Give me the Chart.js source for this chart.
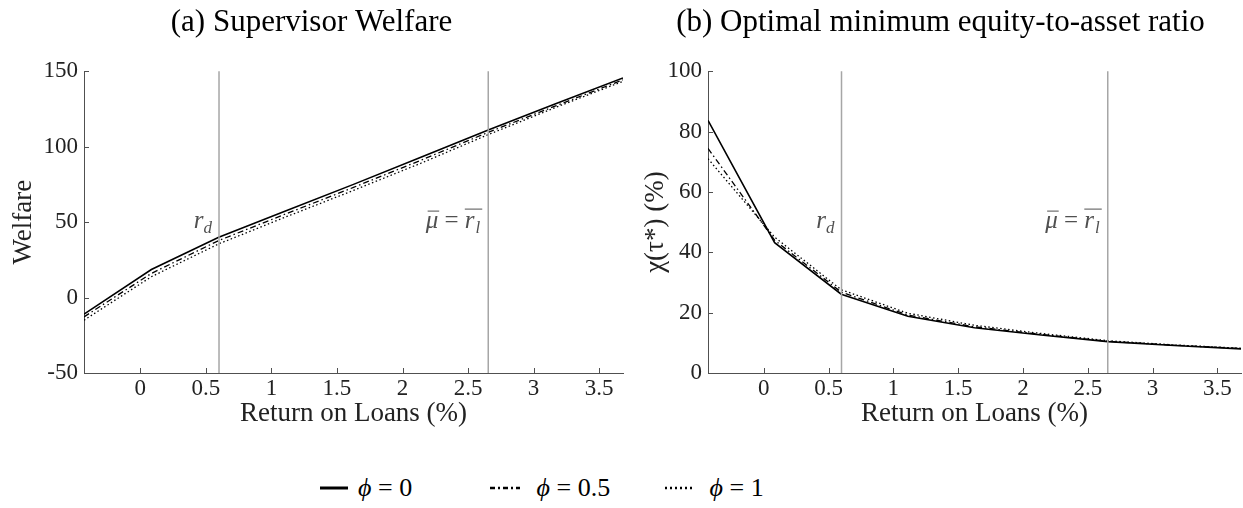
<!DOCTYPE html>
<html>
<head>
<meta charset="utf-8">
<script src="https://cdn.jsdelivr.net/npm/chart.js@4.4.1/dist/chart.umd.min.js"></script>
<style>
  body { margin: 0; background: #fff; width: 1243px; height: 508px; position: relative; overflow: hidden; }
  .panel { position: absolute; top: 0; height: 440px; }
  #left { left: 0; width: 640px; }
  #right { left: 640px; width: 603px; }
  .legend { position: absolute; top: 473px; height: 34px; font-family: 'Liberation Serif', serif; font-size: 26px; color: #000; }
  .item { position: absolute; top: 0; display: flex; align-items: center; white-space: nowrap; }
  .item svg { margin-right: 10px; }
  .item i { font-style: italic; }
</style>
</head>
<body>
<div class="panel" id="left"><canvas id="welfareChart"></canvas></div>
<div class="panel" id="right"><canvas id="ratioChart"></canvas></div>

<div class="legend">
  <div class="item" style="left:320px">
    <svg width="28" height="10"><line x1="0" y1="5" x2="28" y2="5" stroke="#000" stroke-width="3"/></svg>
    <span><i>ϕ</i> = 0</span>
  </div>
  <div class="item" style="left:490px">
    <svg width="30" height="10"><line x1="0" y1="5" x2="30" y2="5" stroke="#000" stroke-width="2.5" stroke-dasharray="5 3 2 3"/></svg>
    <span>&nbsp;<i>ϕ</i> = 0.5</span>
  </div>
  <div class="item" style="left:665px">
    <svg width="28" height="10"><line x1="0" y1="5" x2="28" y2="5" stroke="#000" stroke-width="2.5" stroke-dasharray="2 3"/></svg>
    <span>&nbsp;<i>ϕ</i> = 1</span>
  </div>
</div>

<script>
// --- Data ---
const xValues = [-0.43, 0.084, 0.598, 1.112, 1.626, 2.14, 2.654, 3.168, 3.682];

const welfarePhi0 = [-11, 18.6, 40, 57.5, 75, 93, 111, 128.5, 145.5];
const welfarePhi05 = [-12.8, 16, 37.8, 55.5, 73, 91, 109.5, 127, 144.3];
const welfarePhi1 = [-15, 13.8, 35.6, 53.5, 71, 89, 108, 126, 143.3];

const ratioPhi0 = [83.7, 43.2, 26.1, 18.8, 15, 12.6, 10.4, 9.1, 8.0];
const ratioPhi05 = [74.4, 44, 26.8, 19.2, 15.3, 12.8, 10.5, 9.2, 8.1];
const ratioPhi1 = [71, 45, 27.6, 19.8, 15.8, 13.1, 10.7, 9.3, 8.2];

const xTicks = [0, 0.5, 1, 1.5, 2, 2.5, 3, 3.5];
const welfareTicks = [-50, 0, 50, 100, 150];
const ratioTicks = [0, 20, 40, 60, 80, 100];

// reference lines (deposit rate and mean loan return)
const rD = 0.6;
const muBar = 2.654;

const SERIF = "'Liberation Serif', 'Times New Roman', serif";
const AXIS_COLOR = '#505050';

const toPoints = (ys) => ys.map((y, i) => ({ x: xValues[i], y: y }));

// vertical reference lines + their math labels
const refLinesPlugin = {
  id: 'refLines',
  afterDatasetsDraw(chart) {
    const { ctx, chartArea } = chart;
    const xs = chart.scales.x;
    const midY = (chartArea.top + chartArea.bottom) / 2;
    ctx.save();
    ctx.strokeStyle = '#a6a6a6';
    ctx.lineWidth = 1.5;
    [rD, muBar].forEach((v) => {
      const px = xs.getPixelForValue(v);
      ctx.beginPath();
      ctx.moveTo(px, chartArea.top);
      ctx.lineTo(px, chartArea.bottom);
      ctx.stroke();
    });

    ctx.fillStyle = '#505050';
    ctx.strokeStyle = '#505050';
    ctx.lineWidth = 1;
    ctx.textBaseline = 'alphabetic';
    const big = 'italic 25px ' + SERIF;
    const small = 'italic 17px ' + SERIF;
    const upright = '25px ' + SERIF;

    // r_d
    let px = xs.getPixelForValue(rD) - 7;
    ctx.font = small; const wd = ctx.measureText('d').width;
    ctx.font = big; const wr = ctx.measureText('r').width;
    let x0 = px - wr - wd;
    ctx.fillText('r', x0, midY + 6);
    ctx.font = small;
    ctx.fillText('d', x0 + wr, midY + 11);

    // mu-bar = r_l-bar
    px = xs.getPixelForValue(muBar) - 7;
    ctx.font = big; const wmu = ctx.measureText('μ').width; const wr2 = ctx.measureText('r').width;
    ctx.font = upright; const weq = ctx.measureText(' = ').width;
    ctx.font = small; const wl = ctx.measureText('l').width;
    x0 = px - (wmu + weq + wr2 + wl + 2);
    ctx.font = big;
    ctx.fillText('μ', x0, midY + 6);
    ctx.beginPath(); ctx.moveTo(x0 + 2, midY - 11); ctx.lineTo(x0 + wmu + 1, midY - 11); ctx.stroke();
    ctx.font = upright;
    ctx.fillText(' = ', x0 + wmu, midY + 6);
    const xr = x0 + wmu + weq;
    ctx.font = big;
    ctx.fillText('r', xr, midY + 6);
    ctx.font = small;
    ctx.fillText('l', xr + wr2 + 1, midY + 11);
    ctx.beginPath(); ctx.moveTo(xr, midY - 13); ctx.lineTo(xr + wr2 + wl + 3, midY - 13); ctx.stroke();
    ctx.restore();
  },
};

// MATLAB style tick marks pointing into the plot area
const inwardTicksPlugin = {
  id: 'inwardTicks',
  afterDraw(chart) {
    const { ctx, chartArea } = chart;
    ctx.save();
    ctx.strokeStyle = AXIS_COLOR;
    ctx.lineWidth = 1;
    chart.scales.x.ticks.forEach((t) => {
      const px = Math.round(chart.scales.x.getPixelForValue(t.value)) + 0.5;
      ctx.beginPath();
      ctx.moveTo(px, chartArea.bottom);
      ctx.lineTo(px, chartArea.bottom - 5);
      ctx.stroke();
    });
    chart.scales.y.ticks.forEach((t) => {
      const py = Math.round(chart.scales.y.getPixelForValue(t.value)) + 0.5;
      ctx.beginPath();
      ctx.moveTo(chartArea.left, py);
      ctx.lineTo(chartArea.left + 5, py);
      ctx.stroke();
    });
    ctx.restore();
  },
};

const seriesStyles = [
  { label: 'ϕ = 0', borderDash: [], borderWidth: 1.6 },
  { label: 'ϕ = 0.5', borderDash: [6, 3, 1.5, 3], borderWidth: 1.3 },
  { label: 'ϕ = 1', borderDash: [1.5, 2.5], borderWidth: 1.3 },
];

const makeChart = (canvasId, opts) => {
  const datasets = opts.series.map((ys, i) => ({
    label: seriesStyles[i].label,
    data: toPoints(ys),
    borderColor: '#000',
    borderWidth: seriesStyles[i].borderWidth,
    borderDash: seriesStyles[i].borderDash,
    pointRadius: 0,
    tension: 0,
    fill: false,
  }));

  return new Chart(document.getElementById(canvasId), {
    type: 'line',
    data: { datasets: datasets },
    plugins: [refLinesPlugin, inwardTicksPlugin],
    options: {
      responsive: true,
      maintainAspectRatio: false,
      animation: false,
      layout: { padding: { left: 0, right: opts.padRight, top: 0, bottom: 0 } },
      plugins: {
        legend: { display: false },
        tooltip: { enabled: false },
        title: {
          display: true,
          text: opts.title,
          color: '#000',
          font: { family: SERIF, size: 31, weight: 'normal' },
          padding: { top: 4, bottom: 30 },
        },
      },
      scales: {
        x: {
          type: 'linear',
          min: xValues[0],
          max: xValues[xValues.length - 1],
          afterBuildTicks: (scale) => { scale.ticks = xTicks.map((v) => ({ value: v })); },
          afterFit: (scale) => { scale.height = 67; },
          grid: { drawOnChartArea: false, drawTicks: false },
          border: { color: AXIS_COLOR, width: 1 },
          ticks: {
            autoSkip: false,
            maxRotation: 0,
            padding: 2,
            color: '#222',
            font: { family: SERIF, size: 23 },
            callback: (v) => String(v),
          },
          title: {
            display: true,
            text: 'Return on Loans (%)',
            color: '#222',
            font: { family: SERIF, size: 27 },
            padding: { top: 0, bottom: 10 },
          },
        },
        y: {
          type: 'linear',
          min: opts.yTicks[0],
          max: opts.yTicks[opts.yTicks.length - 1],
          afterBuildTicks: (scale) => { scale.ticks = opts.yTicks.map((v) => ({ value: v })); },
          afterFit: (scale) => { scale.width = opts.yWidth; },
          grid: { drawOnChartArea: false, drawTicks: false },
          border: { color: AXIS_COLOR, width: 1 },
          ticks: {
            padding: 6,
            color: '#222',
            font: { family: SERIF, size: 23 },
            callback: (v) => String(v),
          },
          title: {
            display: true,
            text: opts.yTitle,
            color: '#222',
            font: { family: SERIF, size: 27 },
            padding: { top: opts.yTitlePad, bottom: 0 },
          },
        },
      },
    },
  });
};

makeChart('welfareChart', {
  title: '(a) Supervisor Welfare',
  series: [welfarePhi0, welfarePhi05, welfarePhi1],
  yTicks: welfareTicks,
  yTitle: 'Welfare',
  yWidth: 84,
  yTitlePad: 8,
  padRight: 17,
});

makeChart('ratioChart', {
  title: '(b) Optimal minimum equity-to-asset ratio',
  series: [ratioPhi0, ratioPhi05, ratioPhi1],
  yTicks: ratioTicks,
  yTitle: 'χ(τ*) (%)',
  yWidth: 68,
  yTitlePad: 0,
  padRight: 2,
});
</script>
</body>
</html>
